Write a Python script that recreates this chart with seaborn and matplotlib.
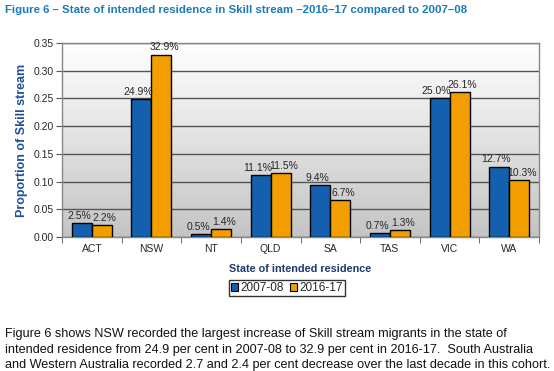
import numpy as np
import pandas as pd
import matplotlib
matplotlib.use("Agg")
import matplotlib.pyplot as plt
import seaborn as sns
from matplotlib.colors import LinearSegmentedColormap

states = ["ACT", "NSW", "NT", "QLD", "SA", "TAS", "VIC", "WA"]
v2007 = [0.025, 0.249, 0.005, 0.111, 0.094, 0.007, 0.250, 0.127]
v2016 = [0.022, 0.329, 0.014, 0.115, 0.067, 0.013, 0.261, 0.103]
series = ["2007-08", "2016-17"]
colors = ["#1560ae", "#f29e00"]

df = pd.DataFrame({
    "state": states * 2,
    "period": [series[0]] * len(states) + [series[1]] * len(states),
    "value": v2007 + v2016,
})

sns.set_style("white")
plt.rcParams["font.family"] = ["Liberation Sans", "DejaVu Sans"]

fig = plt.figure(figsize=(5.54, 3.71), dpi=100)
ax = fig.add_axes([62/554, 1-237/371, (539-62)/554, (237-43)/371])

# gradient background
grad = np.linspace(0, 1, 256).reshape(-1, 1)
cmap = LinearSegmentedColormap.from_list("bg", ["#c4c4c4", "#ffffff"])
ax.imshow(grad, extent=[-0.5, 7.5, 0, 0.35], origin="lower", aspect="auto",
          cmap=cmap, zorder=0)

sns.barplot(data=df, x="state", y="value", hue="period", palette=colors,
            width=0.67, edgecolor="black", linewidth=1.0, ax=ax, zorder=3,
            saturation=1)

ax.set_xlim(-0.5, 7.5)
ax.set_ylim(0, 0.35)
yt = np.arange(0, 0.351, 0.05)
ax.set_yticks(yt)
ax.set_yticklabels([f"{t:.2f}" for t in yt], fontsize=7.5)
ax.yaxis.grid(True, color="#555555", linewidth=1.0, zorder=1)
ax.set_axisbelow(True)
for s in ax.spines.values():
    s.set_color("#888888")
    s.set_linewidth(1.0)
ax.tick_params(axis="y", length=4, direction="out", left=True, color="#555555", pad=2)
ax.tick_params(axis="x", length=0, labelsize=7.5, pad=5)
ax.set_xticks(np.arange(-0.5, 7.6, 1), minor=True)
ax.tick_params(axis="x", which="minor", length=4, direction="out", bottom=True, color="#555555")

ax.set_ylabel("Proportion of Skill stream", fontsize=9, fontweight="bold", color="#1f4f9c", labelpad=4)
ax.set_xlabel("State of intended residence", fontsize=7.8, fontweight="bold", color="#1e3a6e", labelpad=7)

# value labels
for i, c in enumerate(ax.containers):
    for j, bar in enumerate(c):
        h = bar.get_height()
        x = bar.get_x() + bar.get_width() / 2 + (-0.05 if i == 0 else 0.05)
        ax.text(x, h + 0.004, f"{h*100:.1f}%", ha="center", va="bottom", fontsize=7.5, zorder=5)

ax.legend_.remove()
handles = [plt.Rectangle((0, 0), 1, 1, facecolor=colors[k], edgecolor="black", linewidth=0.8) for k in range(2)]
fig.legend(handles, series, loc="center", bbox_to_anchor=(287/554, 1-288/371), ncol=2,
           frameon=True, fontsize=8.5, handlelength=0.6, handleheight=0.6, handletextpad=0.2,
           columnspacing=0.5, borderpad=0.2, fancybox=False, edgecolor="black")

fig.text(5/554, 1-10/371, "Figure 6 \u2013 State of intended residence in Skill stream \u20132016\u201317 compared to 2007\u201308",
         fontsize=8.2, fontweight="bold", color="#1a7bb9", va="center", ha="left")

body = ["Figure 6 shows NSW recorded the largest increase of Skill stream migrants in the state of",
        "intended residence from 24.9 per cent in 2007-08 to 32.9 per cent in 2016-17.  South Australia",
        "and Western Australia recorded 2.7 and 2.4 per cent decrease over the last decade in this cohort."]
for k, line in enumerate(body):
    fig.text(5/554, 1-(334 + k*15.5)/371, line, fontsize=9.05, va="center", ha="left", color="#111111")

fig.savefig("out.png", dpi=100, facecolor="white")
